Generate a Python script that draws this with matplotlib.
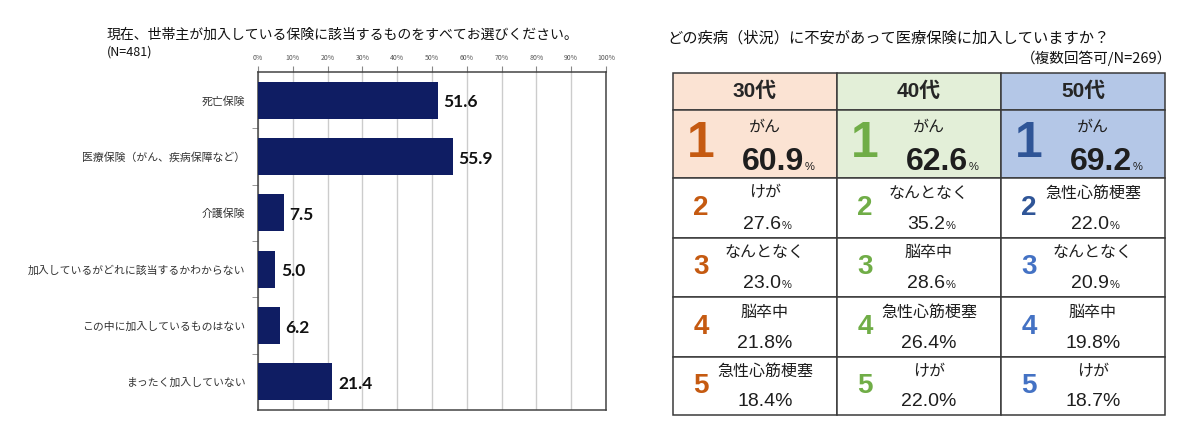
import matplotlib.pyplot as plt
from matplotlib.patches import Rectangle

JP = ['Noto Sans CJK JP', 'DejaVu Sans']
NUM = ['Liberation Sans', 'Noto Sans CJK JP']
BOLDNUM = ['Lato', 'DejaVu Sans']

# left chart: insurance currently held (N=481)
categories = ['死亡保険', '医療保険（がん、疾病保障など）', '介護保険',
              '加入しているがどれに該当するかわからない',
              'この中に加入しているものはない', 'まったく加入していない']
shares = [51.6, 55.9, 7.5, 5.0, 6.2, 21.4]
pct_ticks = list(range(0, 101, 10))

# right table: illness worries by age group (N=269)
ages = ['30代', '40代', '50代']
ranks = [1, 2, 3, 4, 5]
illness_30 = ['がん', 'けが', 'なんとなく', '脳卒中', '急性心筋梗塞']
rate_30 = [60.9, 27.6, 23.0, 21.8, 18.4]
illness_40 = ['がん', 'なんとなく', '脳卒中', '急性心筋梗塞', 'けが']
rate_40 = [62.6, 35.2, 28.6, 26.4, 22.0]
illness_50 = ['がん', '急性心筋梗塞', 'なんとなく', '脳卒中', 'けが']
rate_50 = [69.2, 22.0, 20.9, 19.8, 18.7]

W, H = 1200, 447
fig = plt.figure(figsize=(12, 4.47), dpi=100)
fig.patch.set_facecolor('white')

# ---- bar chart ----
ax = fig.add_axes([258 / W, 1 - 410 / H, 348 / W, 338 / H])
ypos = list(range(len(categories)))
ax.barh(ypos, shares, height=0.66, color='#0F1D63', zorder=3)
ax.set_xlim(0, 100)
ax.set_ylim(len(categories) - 0.5, -0.5)
ax.xaxis.tick_top()
ax.set_xticks(pct_ticks, [f'{t}%' for t in pct_ticks])
for lab in ax.get_xticklabels():
    lab.set_fontsize(5)
    lab.set_family(JP)
    lab.set_color('#555555')
ax.tick_params(axis='x', length=4, width=0.8, color='#888888', pad=3)
ax.grid(axis='x', color='#CCCCCC', lw=1, zorder=0)
ax.set_yticks(ypos, categories)
for lab in ax.get_yticklabels():
    lab.set_fontsize(7.8)
    lab.set_family(JP)
    lab.set_color('#333333')
ax.tick_params(axis='y', length=0, pad=9)
ax.set_yticks([i + 0.5 for i in ypos[:-1]], minor=True)
ax.tick_params(axis='y', which='minor', length=4, color='#888888')
for s in ax.spines.values():
    s.set_color('#444444')
    s.set_linewidth(1.1)

for i, v in enumerate(shares):
    ax.annotate(f'{v:.1f}', (v, i), xytext=(4, -1.5), textcoords='offset points',
                va='center', ha='left', fontsize=12.5, fontweight='bold',
                family=BOLDNUM, color='#111111')

fig.text(107 / W, 1 - 35 / H, '現在、世帯主が加入している保険に該当するものをすべてお選びください。',
         fontsize=10, family=JP, va='center', color='#111111')
fig.text(107 / W, 1 - 52 / H, '(N=481)', fontsize=9, family=JP, va='center', color='#111111')

# ---- table ----
fig.text(667 / W, 1 - 38 / H, 'どの疾病（状況）に不安があって医療保険に加入していますか？',
         fontsize=11, family=JP, va='center', color='#111111')
fig.text(1172 / W, 1 - 58 / H, '（複数回答可/N=269）',
         fontsize=10.5, family=JP, va='center', ha='right', color='#111111')

tx = fig.add_axes([673 / W, 1 - 415 / H, 492 / W, 342 / H])
row_edges = [0, 37, 105, 165, 224, 284, 342]
tx.set_xlim(0, 3)
tx.set_ylim(row_edges[-1], 0)
tx.axis('off')

fills = ['#FBE3D3', '#E3EFD8', '#B4C7E7']
rank_colors = [['#C55A11'] * 5,
               ['#70AD47'] * 5,
               ['#2F5597', '#2F5597', '#4472C4', '#4472C4', '#4472C4']]
illness = [illness_30, illness_40, illness_50]
rates = [rate_30, rate_40, rate_50]
line_c = '#3A3A3A'
txt_c = '#1E1E1E'

for c, age in enumerate(ages):
    for r in range(6):
        top, bot = row_edges[r], row_edges[r + 1]
        fc = fills[c] if r < 2 else 'white'
        tx.add_patch(Rectangle((c, top), 1, bot - top, facecolor=fc,
                               edgecolor=line_c, lw=1.1, clip_on=False))
    tx.text(c + 0.5, row_edges[0] + 0.5 * (row_edges[1] - row_edges[0]), age,
            fontsize=15, fontweight='bold', family=NUM, ha='center', va='center',
            color='#262626')
    for k, rank in enumerate(ranks):
        top, bot = row_edges[k + 1], row_edges[k + 2]
        h = bot - top
        big = k == 0
        tx.text(c + 0.17, top + 0.5 * h, str(rank), fontsize=36 if big else 20,
                fontweight='bold', family=NUM, ha='center', va='center',
                color=rank_colors[c][k])
        tx.text(c + 0.56, top + 0.25 * h, illness[c][k], fontsize=11.5, family=JP,
                ha='center', va='center', color=txt_c)
        val = f'{rates[c][k]:.1f}'
        if k < 3:
            anchor = c + (0.80 if big else 0.66)
            tx.text(anchor, top + (0.88 if big else 0.85) * h, val,
                    fontsize=23 if big else 14, fontweight='bold' if big else 'normal',
                    family=NUM, ha='right', va='baseline', color=txt_c)
            tx.text(anchor, top + (0.88 if big else 0.85) * h, '%',
                    fontsize=8, family=NUM, ha='left', va='baseline', color=txt_c)
        else:
            tx.text(c + 0.56, top + 0.85 * h, val + '%', fontsize=14, family=NUM,
                    ha='center', va='baseline', color=txt_c)

fig.savefig('out.png', dpi=100)
